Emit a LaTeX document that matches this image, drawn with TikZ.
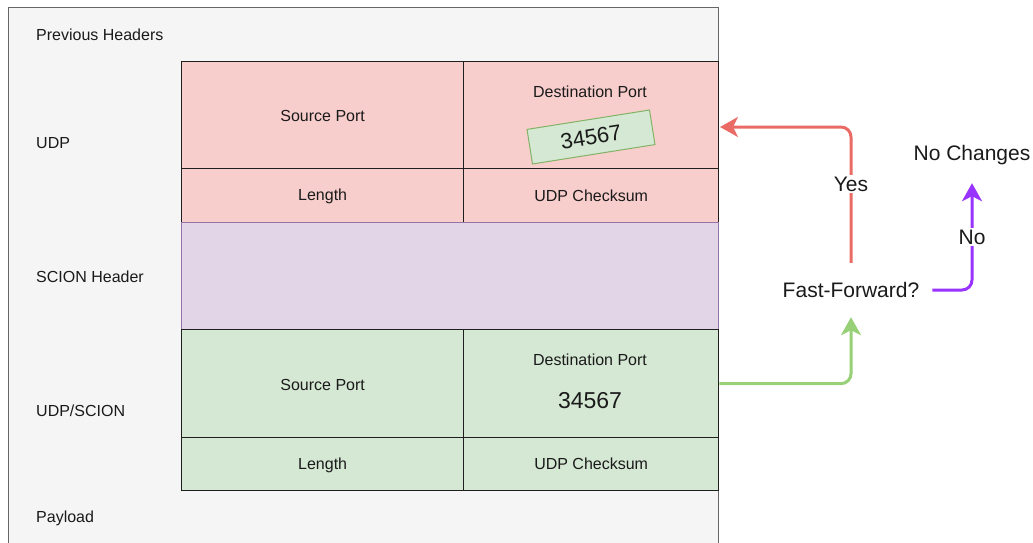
\documentclass[tikz,border=0pt]{standalone}
\usepackage{fontspec}
\setmainfont{Liberation Sans}
\usetikzlibrary{arrows.meta}
\definecolor{outerfill}{HTML}{F5F5F5}
\definecolor{outerline}{HTML}{666666}
\definecolor{pinkfill}{HTML}{F8CECC}
\definecolor{lilacfill}{HTML}{E1D5E7}
\definecolor{lilacline}{HTML}{9673A6}
\definecolor{mintfill}{HTML}{D5E8D4}
\definecolor{mintline}{HTML}{82B366}
\definecolor{cellline}{HTML}{1F1F1F}
\definecolor{yesred}{HTML}{EA6B66}
\definecolor{novio}{HTML}{9933FF}
\definecolor{fwdgreen}{HTML}{97D077}
\definecolor{ink}{HTML}{1A1A1A}
\tikzset{
  cell/.style={draw=cellline, line width=1.3pt, inner sep=0pt, anchor=north west},
  small/.style={font=\fontsize{16}{19}\selectfont, text=ink, inner sep=0pt},
  big/.style={font=\fontsize{21}{25}\selectfont, text=ink},
  flow/.style={line width=3pt, rounded corners=10pt,
    -{Stealth[length=18pt,width=20pt,inset=5pt]}},
  flowlabel/.style={big, fill=white, inner sep=2pt},
}
\begin{document}
\begin{tikzpicture}[x=1pt,y=-1pt]
\useasboundingbox (0,0) rectangle (1033,543);
\begin{scope}
\clip (0,0) rectangle (1033,543);
% enclosing packet frame
\draw[outerline, fill=outerfill, line width=1pt] (8,8) rectangle (718,570);
\end{scope}

% layer names
\node[small, anchor=west] (lprev) at (36,35) {Previous Headers};
\node[small, anchor=west] (ludp) at (36,143) {UDP};
\node[small, anchor=west] (lscion) at (36,277) {SCION Header};
\node[small, anchor=west] (ludps) at (36,411) {UDP/SCION};
\node[small, anchor=west] (lpay) at (36,518) {Payload};

% UDP header
\node[cell, fill=pinkfill, minimum width=282pt, minimum height=107pt] (usrc) at (181,61) {};
\node[cell, fill=pinkfill, minimum width=255pt, minimum height=107pt] (udst) at (463,61) {};
\node[cell, fill=pinkfill, minimum width=282pt, minimum height=54pt] (ulen) at (181,168) {};
\node[cell, fill=pinkfill, minimum width=255pt, minimum height=54pt] (usum) at (463,168) {};
\node[small] at ([yshift=-1pt]usrc.center) {Source Port};
\node[small] at (590,92) {Destination Port};
\node[small] at ([yshift=-1pt]ulen.center) {Length};
\node[small] at (usum.center) {UDP Checksum};
\node[draw=mintline, fill=mintfill, line width=1pt, rotate=9,
      minimum width=124pt, minimum height=35pt, inner sep=0pt,
      font=\fontsize{22}{26}\selectfont, text=ink] (newport) at (591,137) {34567};

% SCION header
\node[cell, draw=lilacline, fill=lilacfill, minimum width=537pt, minimum height=107pt] (scion) at (181,222) {};

% UDP/SCION header
\node[cell, fill=mintfill, minimum width=282pt, minimum height=108pt] (ssrc) at (181,329) {};
\node[cell, fill=mintfill, minimum width=255pt, minimum height=108pt] (sdst) at (463,329) {};
\node[cell, fill=mintfill, minimum width=282pt, minimum height=53pt] (slen) at (181,437) {};
\node[cell, fill=mintfill, minimum width=255pt, minimum height=53pt] (ssum) at (463,437) {};
\node[small] at ([yshift=-1pt]ssrc.center) {Source Port};
\node[small] at (590,360) {Destination Port};
\node[font=\fontsize{23}{27}\selectfont, text=ink, inner sep=0pt] (oldport) at (590,401) {34567};
\node[small] at ([yshift=-1pt]slen.center) {Length};
\node[small] at (ssum.center) {UDP Checksum};

% decision
\node[big, inner xsep=13pt, minimum height=54pt] (ff) at (851,290) {Fast-Forward?};
\node[big, inner sep=0pt, minimum height=56pt] (nc) at (972,155) {No Changes};
\coordinate (rewrite) at (720,127);

\draw[flow, fwdgreen] (sdst.east) -| (ff.south);
\draw[flow, yesred] (ff.north) |- (rewrite);
\node[flowlabel] (yes) at (851,184) {Yes};
\draw[flow, novio] (ff.east) -| (nc.south);
\node[flowlabel] (no) at (972,237) {No};
\end{tikzpicture}
\end{document}
